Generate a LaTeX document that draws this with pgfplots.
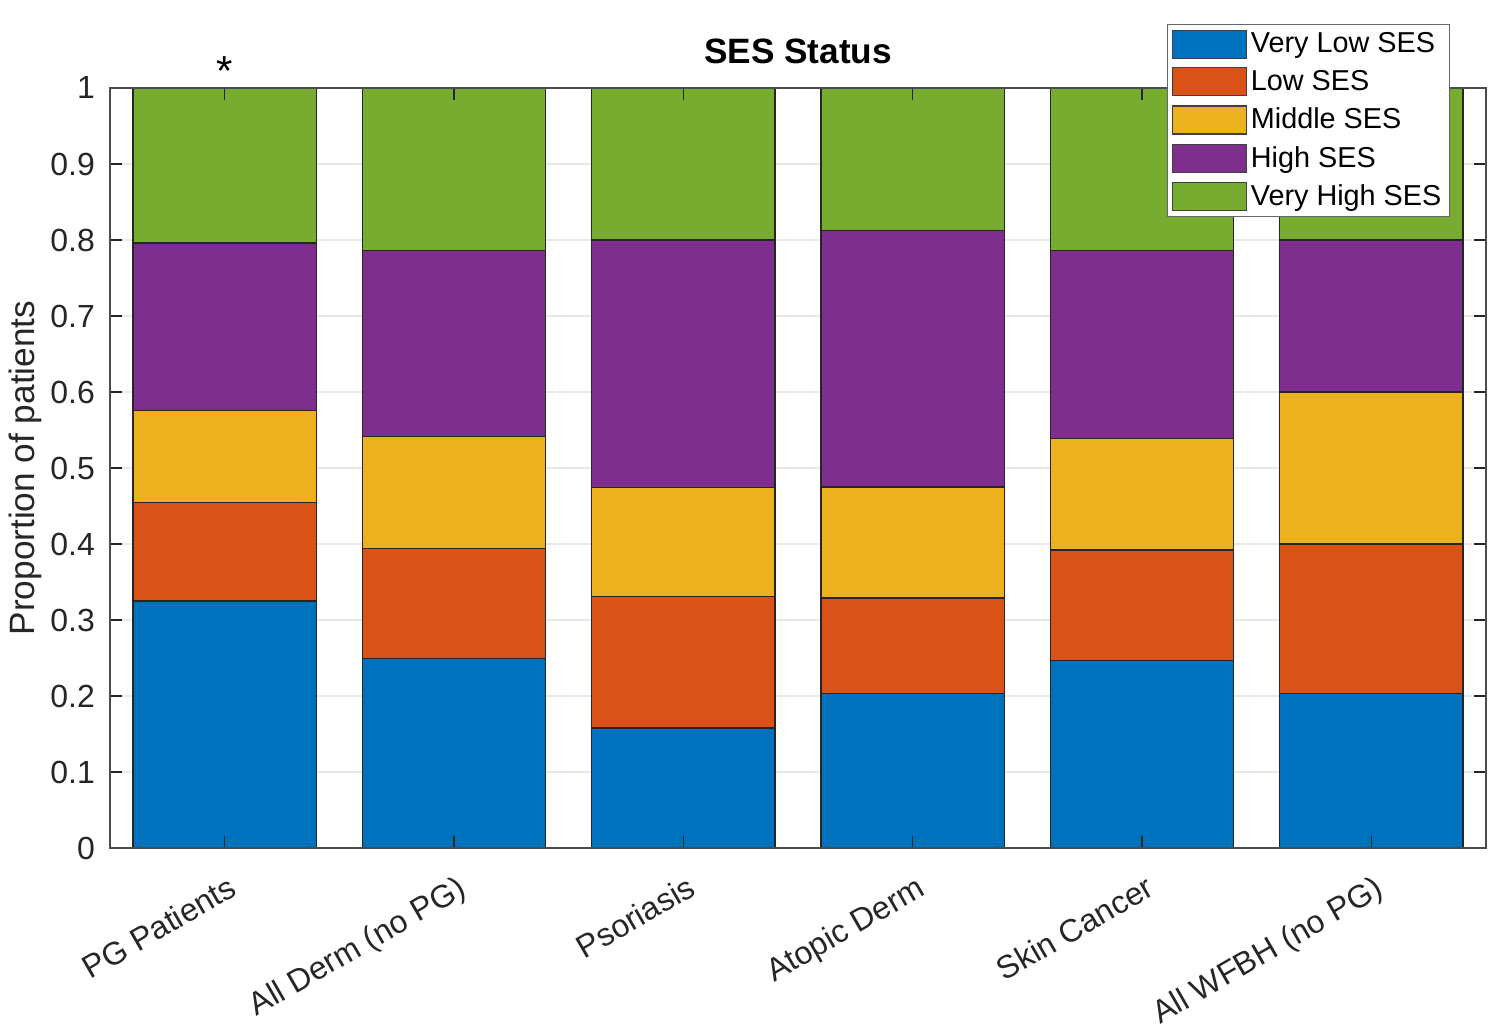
\documentclass[border=0pt]{standalone}
\usepackage{pgfplots}
\pgfplotsset{compat=1.18}
\usepackage{fontspec}
\setmainfont{Liberation Sans}
\usetikzlibrary{calc}
\definecolor{mblue}{rgb}{0,0.447,0.741}
\definecolor{morange}{rgb}{0.85,0.325,0.098}
\definecolor{myellow}{rgb}{0.929,0.694,0.125}
\definecolor{mpurple}{rgb}{0.494,0.184,0.556}
\definecolor{mgreen}{rgb}{0.466,0.674,0.188}
\definecolor{mtext}{rgb}{0.15,0.15,0.15}
\pgfplotsset{
  layers/mylayers/.define layer set={axis background,axis grid,pre main,main,axis ticks,axis lines,axis tick labels,axis descriptions,axis foreground}{/pgfplots/layers/standard},
}
\begin{document}
\begin{tikzpicture}
\begin{axis}[
  set layers=mylayers,
  scale only axis,
  width=688pt, height=380pt,
  ybar stacked,
  bar width=0.8,
  xmin=0.5, xmax=6.5,
  ymin=0, ymax=1,
  xtick={1,2,3,4,5,6},
  xticklabels={PG Patients, All Derm (no PG), Psoriasis, Atopic Derm, Skin Cancer, All WFBH (no PG)},
  ytick={0,0.1,0.2,0.3,0.4,0.5,0.6,0.7,0.8,0.9,1},
  yticklabels={0,0.1,0.2,0.3,0.4,0.5,0.6,0.7,0.8,0.9,1},
  tick align=inside,
  major tick length=6pt,
  tick style={mtext, line width=0.6pt},
  axis line style={black!70, line width=0.7pt},
  ymajorgrids,
  grid style={black!9, line width=0.6pt},
  tick label style={font=\fontsize{16}{19}\selectfont, text=mtext},
  /pgf/number format/assume math mode=true,
  yticklabel style={xshift=-4pt},
  xticklabel style={xshift=1.2pt, yshift=-12.9pt, rotate=30, anchor=north east, inner sep=0pt},
  ylabel={Proportion of patients},
  ylabel style={font=\fontsize{17.6}{20}\selectfont, text=mtext, at={(axis description cs:-0.0618,0.5)}, anchor=center},
  title={\textbf{SES Status}},
  title style={font=\fontsize{17.6}{20}\selectfont, at={(axis description cs:0.5,1)}, anchor=base, yshift=6pt},
  legend style={at={(1,1)}, anchor=north east, xshift=-18pt, yshift=32pt,
    draw=black!60, fill=white, line width=0.6pt,
    font=\fontsize{14.4}{16}\selectfont, text=black,
    inner xsep=2pt, inner ysep=2pt, row sep=3.3pt,
    nodes={inner xsep=2pt, inner ysep=2pt}},
  legend cell align=left,
  legend image code/.code={\draw[#1, draw=black!75, line width=0.6pt] (0pt,-7pt) rectangle (37pt,7pt);},
  every axis plot/.append style={draw=black!85, line width=0.6pt},
]
\addplot[fill=mblue] coordinates {(1,0.325) (2,0.249) (3,0.158) (4,0.203) (5,0.247) (6,0.203)};
\addplot[fill=morange] coordinates {(1,0.130) (2,0.145) (3,0.173) (4,0.126) (5,0.145) (6,0.197)};
\addplot[fill=myellow] coordinates {(1,0.121) (2,0.147) (3,0.143) (4,0.146) (5,0.147) (6,0.200)};
\addplot[fill=mpurple] coordinates {(1,0.220) (2,0.245) (3,0.326) (4,0.337) (5,0.247) (6,0.200)};
\addplot[fill=mgreen] coordinates {(1,0.204) (2,0.214) (3,0.200) (4,0.188) (5,0.214) (6,0.200)};
\legend{Very Low SES, Low SES, Middle SES, High SES, Very High SES}
\coordinate (A) at (rel axis cs:0,0);
\coordinate (B) at (rel axis cs:1,1);
\coordinate (S) at (axis cs:1,1);
\end{axis}
\node[font=\fontsize{21}{24}\selectfont, anchor=center, yshift=8.5pt] at (S) {*};
\pgfresetboundingbox
\path ($(A)+(-55pt,-92pt)$) rectangle ($(B)+(7pt,44pt)$);
\end{tikzpicture}
\end{document}
